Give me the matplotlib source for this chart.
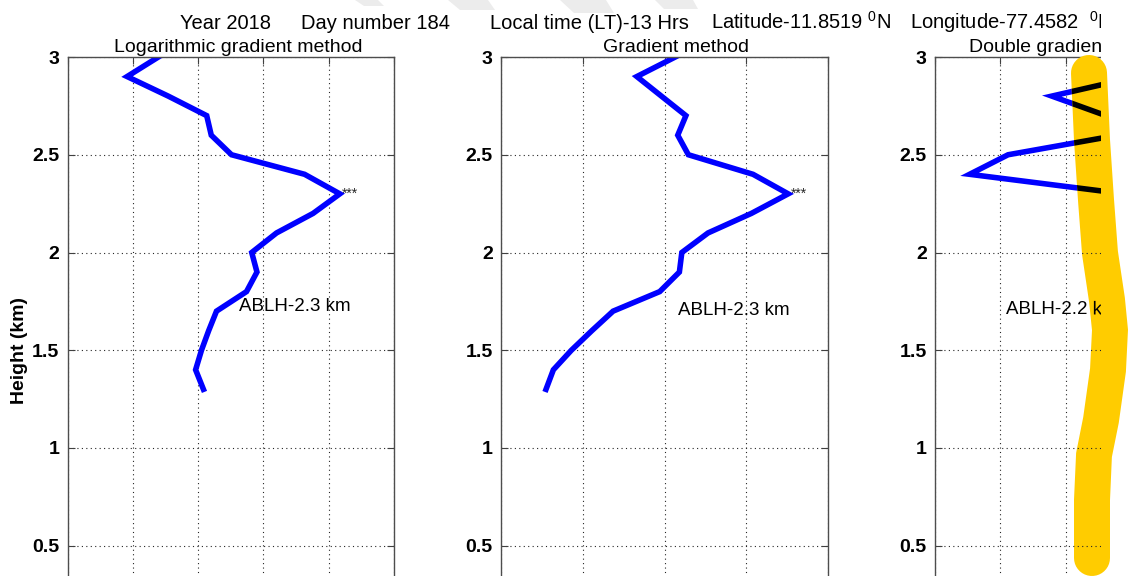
import matplotlib.pyplot as plt
from matplotlib.patches import Polygon, Rectangle, PathPatch
from matplotlib.path import Path
from matplotlib.textpath import TextPath
from matplotlib.font_manager import FontProperties
import matplotlib.transforms as mtransforms
import numpy as np

plt.rcParams['font.family'] = ['Liberation Sans', 'DejaVu Sans']
plt.rcParams['mathtext.fontset'] = 'custom'
plt.rcParams['mathtext.rm'] = 'Liberation Sans'

# ---- profiles (height in km, gradient in grid units) ----
height = [3.0, 2.9, 2.8, 2.7, 2.6, 2.5, 2.4, 2.3, 2.2,
          2.1, 2.0, 1.9, 1.8, 1.7, 1.6, 1.5, 1.4, 1.3]
log_grad = [1.39, 0.91, 1.54, 2.13, 2.20, 2.51, 3.63, 4.17, 3.76,
            3.20, 2.82, 2.90, 2.74, 2.28, 2.16, 2.05, 1.96, 2.08]
grad = [2.13, 1.66, 1.96, 2.26, 2.16, 2.29, 3.08, 3.51, 3.06,
        2.53, 2.21, 2.18, 1.94, 1.37, 1.11, 0.86, 0.64, 0.55]
double_grad = [3.60, 3.10, 1.79, 2.62, 2.80, 1.12, 0.53, 2.90, 4.30,
               3.60, 3.30, 3.40, 3.10, 3.00, 2.90, 2.80, 2.90, 3.00]

ablh = [2.3, 2.3, 2.2]
titles = ['Logarithmic gradient method', 'Gradient method', 'Double gradient method']
yticks = [0.5, 1, 1.5, 2, 2.5, 3]
ytick_labels = ['0.5', '1', '1.5', '2', '2.5', '3']
header = ['Year 2018', 'Day number 184', 'Local time (LT)-13 Hrs',
          r'Latitude-11.8519 $^\mathrm{0}$N', r'Longitude-77.4582  $^\mathrm{0}$E']

# ---- layout (pixels) ----
W, H = 1133, 576
ax_top, ax_bot = 57.0, 643.5
panels = [(67.7, 394.0, 5), (501.0, 828.3, 4), (935.0, 1261.3, 5)]
title_pos = [(0.522, 'center'), (0.535, 'center'), (0.1027, 'left')]
label_pos = [(2.62, 1.70), (2.16, 1.68), (1.09, 1.683)]
header_x = [179.6, 300.7, 490.0, 711.0, 910.0]
crop_x = 1101.0
blue = (0.0, 0.0, 1.0)
grid_ls = (0, (1, 3))
label_fs = 13.5

# marker pen stroke over the third panel (pixel centre line, half width)
pen_path = [(1089, 73), (1092, 140), (1096, 200), (1100, 253), (1107, 300),
            (1110, 330), (1108, 370), (1101, 420), (1094, 455), (1092, 500),
            (1092, 558)]
pen_r = 18.0


def fig_xy(pts):
    pts = np.asarray(pts, float)
    return np.column_stack([pts[:, 0] / W, 1 - pts[:, 1] / H])


def stroke_outline(pts, r, n=20):
    pts = np.asarray(pts, float)
    d = np.gradient(pts, axis=0)
    d /= np.linalg.norm(d, axis=1)[:, None]
    nrm = np.column_stack([-d[:, 1], d[:, 0]])
    left = pts + r * nrm
    right = pts - r * nrm
    t1 = np.arctan2(d[-1, 1], d[-1, 0])
    a = np.linspace(t1 + np.pi / 2, t1 - np.pi / 2, n)
    end_cap = pts[-1] + r * np.column_stack([np.cos(a), np.sin(a)])
    t0 = np.arctan2(d[0, 1], d[0, 0])
    a = np.linspace(t0 - np.pi / 2, t0 - 3 * np.pi / 2, n)
    start_cap = pts[0] + r * np.column_stack([np.cos(a), np.sin(a)])
    return np.vstack([left, end_cap, right[::-1], start_cap])


fig = plt.figure(figsize=(W / 100, H / 100), dpi=100)
profiles = [log_grad, grad, double_grad]
axes = []

for i, (l, r, n) in enumerate(panels):
    rect = [l / W, 1 - ax_bot / H, (r - l) / W, (ax_bot - ax_top) / H]
    ax = fig.add_axes(rect)
    ax.set_xlim(0, n)
    ax.set_ylim(0, 3)
    ax.set_xticks(range(n + 1))
    ax.set_xticklabels([])
    ax.set_yticks(yticks)
    ax.set_yticklabels(ytick_labels, fontweight='bold')
    ax.tick_params(direction='in', length=5, width=0.8, color='0.25',
                   top=True, right=True, labelsize=14, pad=6)
    ax.grid(True, color='0.15', linestyle=grid_ls, linewidth=0.8)
    for sp in ax.spines.values():
        sp.set_color('0.3')
        sp.set_linewidth(1.0)

    prof = profiles[i]
    ax.plot(prof, height, color=blue, lw=4, solid_joinstyle='miter')

    # detected boundary layer top
    k = height.index(ablh[i])
    ax.text(prof[k] + 0.03, ablh[i], '***', fontsize=10, color='0.15',
            ha='left', va='center')
    lx, ly = label_pos[i]
    ax.text(lx, ly, f'ABLH-{ablh[i]} km', fontsize=label_fs, va='baseline')

    tx, ha = title_pos[i]
    ax.text(tx, 1 + 5 / (ax_bot - ax_top), titles[i], transform=ax.transAxes,
            ha=ha, va='baseline', fontsize=14)
    axes.append(ax)

fig.text(20 / W, 1 - 351 / H, 'Height (km)', rotation=90, fontsize=14,
         fontweight='bold', ha='center', va='center')

for s, x in zip(header, header_x):
    fig.text(x / W, 1 - 29 / H, s, fontsize=14.5, va='baseline')

# faint watermark strokes along the top edge
for quad in [[(355, 0), (378, 0), (384, 6), (364, 6)],
             [(448, 0), (488, 0), (495, 10), (460, 10)],
             [(560, 0), (606, 0), (614, 13), (574, 13)],
             [(655, 0), (693, 0), (698, 9), (664, 9)]]:
    fig.add_artist(Polygon(fig_xy(quad), closed=True, transform=fig.transFigure,
                           facecolor='#ececec', edgecolor='none', zorder=1))

# page edge on the right
fig.add_artist(Rectangle((crop_x / W, 0), 1 - crop_x / W, 1,
                         transform=fig.transFigure, facecolor='white',
                         edgecolor='none', zorder=5))

# yellow marker pen
outline = stroke_outline(pen_path, pen_r)
fig.add_artist(Polygon(fig_xy(outline), closed=True, transform=fig.transFigure,
                       facecolor='#FFCC00', edgecolor='none', zorder=6))

# ink showing through the marker
clip_pts = outline.copy()
clip_pts[:, 0] = np.minimum(clip_pts[:, 0], crop_x)
clip = Path(fig_xy(clip_pts), closed=True)

ink = fig.add_axes(axes[2].get_position(), zorder=7)
ink.set_facecolor('none')
ink.axis('off')
ink.set_xlim(axes[2].get_xlim())
ink.set_ylim(axes[2].get_ylim())
arts = ink.plot(double_grad, height, color='black', lw=4, solid_joinstyle='miter')
for v in yticks[:-1]:
    arts.append(ink.axhline(v, color='0.15', linestyle=grid_ls, linewidth=0.8))
for v in range(1, panels[2][2]):
    arts.append(ink.axvline(v, color='0.15', linestyle=grid_ls, linewidth=0.8))

# label drawn as an outline so it can be clipped to the pen stroke
lx, ly = label_pos[2]
tp = TextPath((0, 0), f'ABLH-{ablh[2]} km', size=label_fs * 100 / 72,
              prop=FontProperties(family='Liberation Sans'))
tr = mtransforms.ScaledTranslation(lx, ly, ink.transData)
label_patch = PathPatch(tp, transform=tr, facecolor='black', edgecolor='none')
ink.add_artist(label_patch)
arts.append(label_patch)

for a in arts:
    a.set_clip_path(clip, fig.transFigure)

fig.savefig('out.png', dpi=100)
